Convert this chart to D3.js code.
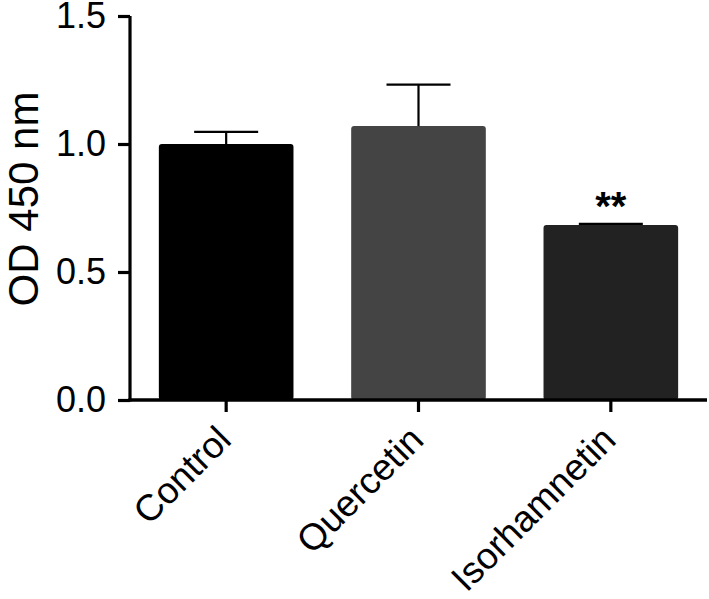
<!DOCTYPE html>
<html>
<head>
<meta charset="utf-8">
<script src="https://cdn.jsdelivr.net/npm/d3@7"></script>
<style>
  html, body { margin: 0; padding: 0; background: #fff; }
  svg { display: block; }
  text { font-family: "Liberation Sans", Arial, Helvetica, sans-serif; fill: #000; }
</style>
</head>
<body>
<svg id="chart" width="709" height="599"></svg>
<script>
const categories = ["Control", "Quercetin", "Isorhamnetin"];
const means = [1.0, 1.07, 0.684];
const errors = [0.047, 0.162, 0.004];
const barColors = ["#000000", "#444444", "#222222"];
const significance = ["", "", "**"];
const yTicks = [0.0, 0.5, 1.0, 1.5];
const yLabel = "OD 450 nm";

const svg = d3.select("#chart");
const x = d3.scaleBand().domain(categories).range([130, 707]).paddingInner(0.3).paddingOuter(0.15);
const y = d3.scaleLinear().domain([0, 1.5]).range([400, 16]);

// bars
svg.append("g").selectAll("rect").data(categories).join("rect")
  .attr("x", d => x(d))
  .attr("y", (d, i) => y(means[i]))
  .attr("width", x.bandwidth())
  .attr("height", (d, i) => y(0) - y(means[i]))
  .attr("rx", 3)
  .attr("fill", (d, i) => barColors[i]);

// error bars
const capW = 64;
const eg = svg.append("g").attr("stroke", "#000").attr("stroke-width", 2.2);
categories.forEach((c, i) => {
  const cx = x(c) + x.bandwidth() / 2;
  eg.append("line").attr("x1", cx).attr("x2", cx).attr("y1", y(means[i])).attr("y2", y(means[i] + errors[i]));
  eg.append("line").attr("x1", cx - capW / 2).attr("x2", cx + capW / 2).attr("y1", y(means[i] + errors[i])).attr("y2", y(means[i] + errors[i]));
});

// y axis
const yAxis = d3.axisLeft(y).tickValues(yTicks).tickFormat(d3.format(".1f")).tickSize(12).tickPadding(12);
const gy = svg.append("g").attr("transform", "translate(130,0)").call(yAxis);
gy.select(".domain").attr("stroke", "#000").attr("stroke-width", 3.2).attr("d", `M0,${y(1.5)}V${y(0)+1.6}`);
gy.selectAll(".tick line").attr("stroke", "#000").attr("stroke-width", 3.2);
gy.selectAll(".tick text").attr("font-size", 36).attr("font-family", "Liberation Sans, Arial, sans-serif").attr("fill", "#000");

// x axis
const xAxis = d3.axisBottom(x).tickSize(12).tickFormat("");
const gx = svg.append("g").attr("transform", "translate(0,400)").call(xAxis);
gx.select(".domain").attr("stroke", "#000").attr("stroke-width", 3.5).attr("d", "M128.4,0H707");
gx.selectAll(".tick line").attr("stroke", "#000").attr("stroke-width", 3.2);

// x labels rotated
svg.append("g").selectAll("text").data(categories).join("text")
  .attr("transform", d => `translate(${x(d) + x.bandwidth() / 2 + 7},${442}) rotate(-45)`)
  .attr("text-anchor", "end")
  .attr("font-size", 37)
  .text(d => d);

// y title
svg.append("text")
  .attr("transform", `translate(38,${199}) rotate(-90)`)
  .attr("text-anchor", "middle")
  .attr("font-size", 42)
  .text(yLabel);

// significance
svg.append("g").selectAll("text").data(categories).join("text")
  .attr("x", d => x(d) + x.bandwidth() / 2)
  .attr("y", (d, i) => y(means[i] + errors[i]) - 4)
  .attr("text-anchor", "middle")
  .attr("font-size", 40)
  .attr("font-weight", "bold")
  .text((d, i) => significance[i]);
</script>
</body>
</html>
